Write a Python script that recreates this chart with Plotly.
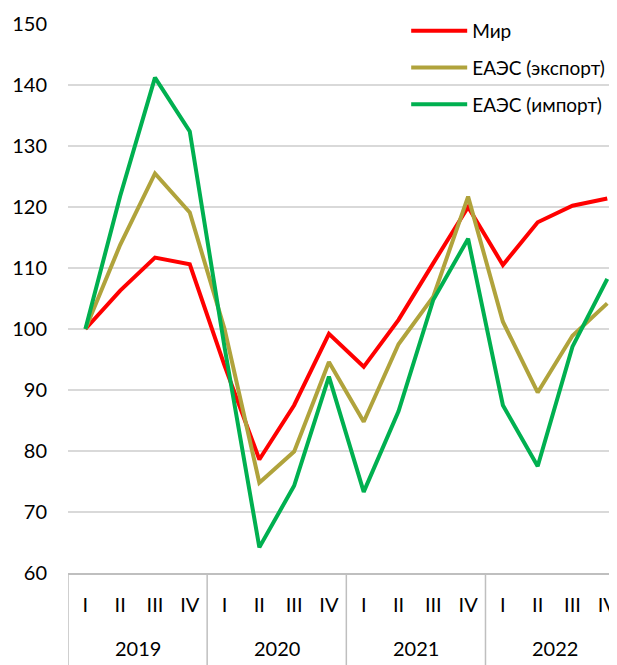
import plotly.graph_objects as go

years = ["2019", "2020", "2021", "2022"]
quarters = ["I", "II", "III", "IV"]

world = [100, 106.3, 111.7, 110.6, 94.0, 78.6, 87.5, 99.2,
         93.8, 101.5, 110.8, 120.0, 110.5, 117.5, 120.2, 121.4]
eaeu_export = [100, 113.8, 125.5, 119.1, 100.0, 74.8, 79.9, 94.6,
               84.8, 97.5, 105.3, 121.7, 101.2, 89.6, 98.9, 104.2]
eaeu_import = [100, 121.8, 141.2, 132.4, 97.0, 64.2, 74.3, 92.2,
               73.3, 86.5, 104.8, 114.8, 87.5, 77.5, 97.1, 108.2]

series_names = ["Мир", "ЕАЭС (экспорт)", "ЕАЭС (импорт)"]
series_colors = ["#FF0000", "#B0A33C", "#00B050"]

# category keys (one per quarter) and their displayed labels
x_keys = [f"{y} {q}" for y in years for q in quarters]
x_text = [q for y in years for q in quarters]

FONT = "Lato, 'Open Sans', sans-serif"
GRID = "#D9D9D9"
AXIS = "#BFBFBF"

fig = go.Figure()
for i, (name, vals, col) in enumerate(zip(series_names,
                                           [world, eaeu_export, eaeu_import],
                                           series_colors)):
    fig.add_trace(go.Scatter(
        x=x_keys, y=vals, name=name, mode="lines",
        line=dict(color=col, width=4), legendgroup=f"g{i}",
    ))

# year group labels and dividers below the axis
nq = len(quarters)
annotations = []
shapes = []
for k, y in enumerate(years):
    center = k * nq + (nq - 1) / 2
    annotations.append(dict(
        x=center, xref="x", y=0, yref="paper", text=y, showarrow=False,
        xanchor="center", yanchor="middle", yshift=-75,
        font=dict(size=20, family=FONT, color="#000000"),
    ))
    shapes.append(dict(
        type="line", xref="x", yref="paper",
        x0=k * nq - 0.5, x1=k * nq - 0.5, y0=0, y1=-0.2,
        line=dict(color=AXIS, width=1.5), layer="above",
    ))

fig.update_layout(
    width=609, height=657,
    margin=dict(l=60, r=0, t=16, b=92, autoexpand=False),
    plot_bgcolor="white", paper_bgcolor="white",
    font=dict(family=FONT, size=20, color="#000000"),
    showlegend=True,
    legend=dict(
        x=0.616, y=1.022, xanchor="left", yanchor="top",
        bgcolor="rgba(0,0,0,0)", font=dict(size=19, family=FONT),
        tracegroupgap=9, itemwidth=56,
    ),
    annotations=annotations,
    shapes=shapes,
    xaxis=dict(
        type="category", range=[-0.5, 15.28], automargin=False,
        categoryorder="array", categoryarray=x_keys,
        tickmode="array", tickvals=x_keys, ticktext=x_text,
        showline=True, linecolor=AXIS, linewidth=1.5,
        showgrid=False, ticks="", ticklabelstandoff=13,
        tickfont=dict(size=20, family=FONT),
    ),
    yaxis=dict(
        range=[60, 150], dtick=10, showline=False, zeroline=False,
        showgrid=True, gridcolor=GRID, gridwidth=1.5, automargin=False,
        ticks="", ticklabelstandoff=20,
        tickfont=dict(size=20, family=FONT),
    ),
)

fig.write_html("out.html")
